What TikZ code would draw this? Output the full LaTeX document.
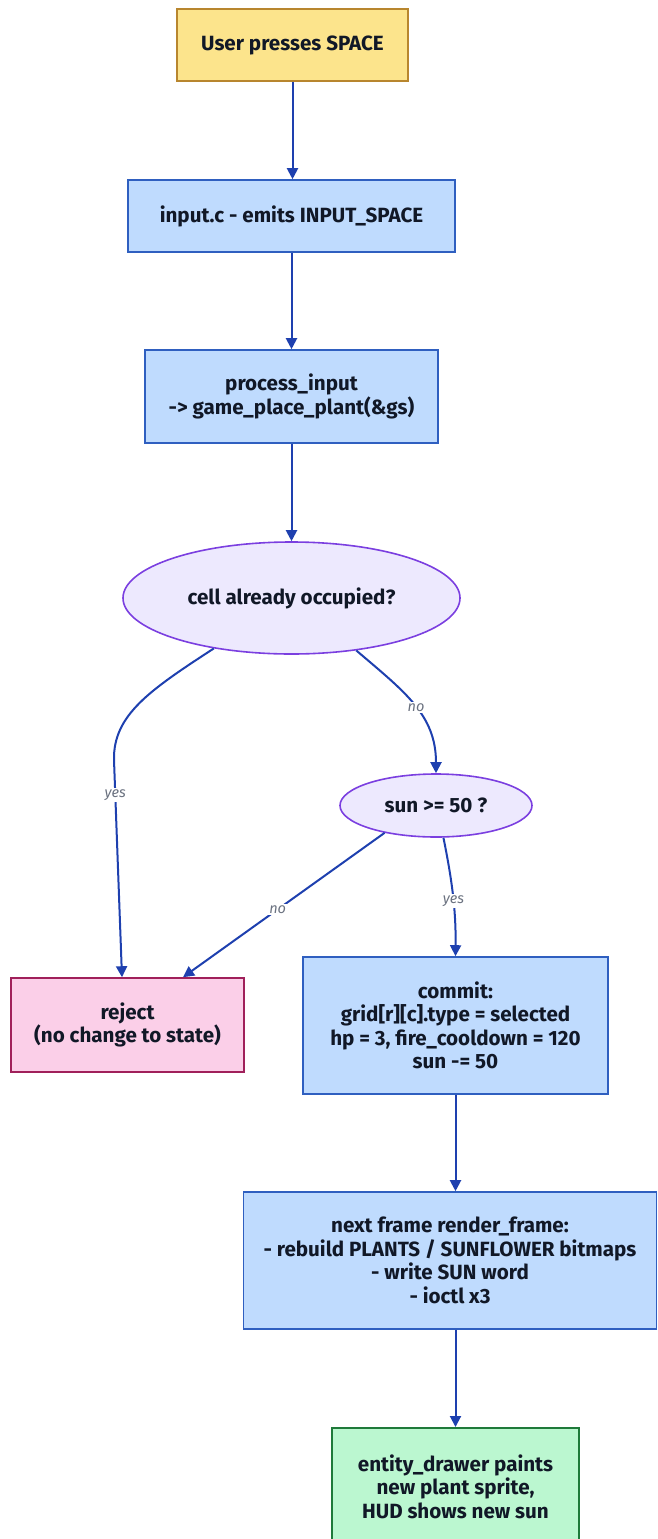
\documentclass[tikz,border=0pt]{standalone}
\usepackage{fontspec}
\setmainfont{Fira Sans}
\usetikzlibrary{shapes.geometric,arrows.meta,calc}
\definecolor{txt}{HTML}{111827}
\definecolor{edge}{HTML}{1E40AF}
\definecolor{lbl}{HTML}{6B7280}
\definecolor{yfill}{HTML}{FCE48C}
\definecolor{ydraw}{HTML}{B8862E}
\definecolor{bfill}{HTML}{BFDBFE}
\definecolor{bdraw}{HTML}{2F5FC0}
\definecolor{pfill}{HTML}{EDE9FE}
\definecolor{pdraw}{HTML}{7B3FE0}
\definecolor{rfill}{HTML}{FBCFE8}
\definecolor{rdraw}{HTML}{A0205A}
\definecolor{gfill}{HTML}{BBF7D0}
\definecolor{gdraw}{HTML}{1F7A3A}
\tikzset{
  box/.style={rectangle, inner sep=0pt, line width=1.6pt, text=txt, align=center,
    font=\bfseries\fontsize{20.6}{23.5}\selectfont},
  startbox/.style={box, fill=yfill, draw=ydraw},
  procbox/.style={box, fill=bfill, draw=bdraw},
  rejbox/.style={box, fill=rfill, draw=rdraw},
  endbox/.style={box, fill=gfill, draw=gdraw},
  decision/.style={ellipse, inner sep=0pt, line width=1.6pt, fill=pfill, draw=pdraw, text=txt,
    align=center, font=\bfseries\fontsize{20.6}{23.5}\selectfont},
  conn/.style={draw=edge, line width=2pt, -{Triangle[length=11pt,width=11pt]}},
  elabel/.style={fill=white, text=lbl, inner sep=1.5pt, font=\itshape\fontsize{14.5}{16}\selectfont}
}
\begin{document}
\begin{tikzpicture}[x=1pt,y=-1pt]
\useasboundingbox (0,0) rectangle (657,1539);
\node[startbox, minimum width=231, minimum height=72] (start) at (292.5,45) {User presses SPACE};
\node[procbox, minimum width=327, minimum height=72] (input) at (291.5,216) {input.c - emits INPUT\_SPACE};
\node[procbox, minimum width=293, minimum height=93] (proc) at (291.5,396.5) {process\_input\\-> game\_place\_plant(\&gs)};
\node[decision, minimum width=337, minimum height=112] (cell) at (291.5,598) {cell already occupied?};
\node[decision, minimum width=192, minimum height=63] (sun) at (436,805.5) {sun >= 50 ?};
\node[rejbox, minimum width=233, minimum height=94] (reject) at (127.5,1025) {reject\\(no change to state)};
\node[procbox, minimum width=305, minimum height=137] (commit) at (455.5,1025.5) {commit:\\grid[r][c].type = selected\\hp = 3, fire\_cooldown = 120\\sun -= 50};
\node[procbox, minimum width=413, minimum height=137] (render) at (450,1260.5) {next frame render\_frame:\\- rebuild PLANTS / SUNFLOWER bitmaps\\- write SUN word\\- ioctl x3};
\node[endbox, minimum width=247, minimum height=118, anchor=north] (entity) at (455.5,1427) {entity\_drawer paints\\new plant sprite,\\HUD shows new sun};

\draw[conn] (start.south) -- (start.south |- input.north);
\draw[conn] (input.south) -- (input.south |- proc.north);
\draw[conn] (proc.south) -- (proc.south |- cell.north);
\draw[conn] (cell.213) .. controls (150,690) and (113,715) .. (114,760)
   -- ([xshift=-5.5pt]reject.north) node[pos=0.16, elabel] {yes};
\draw[conn] (cell.321) .. controls (405,692) and (436,715) .. (sun.north)
   node[pos=0.52, elabel] {no};
\draw[conn] (sun.208) -- ([xshift=55.5pt]reject.north) node[pos=0.53, elabel] {no};
\draw[conn] (sun.283) .. controls (452,880) and (456,910) .. (commit.north)
   node[pos=0.55, elabel] {yes};
\draw[conn] (commit.south) -- (commit.south |- render.north);
\draw[conn] (render.south -| commit.south) -- (entity.north);
\end{tikzpicture}
\end{document}
